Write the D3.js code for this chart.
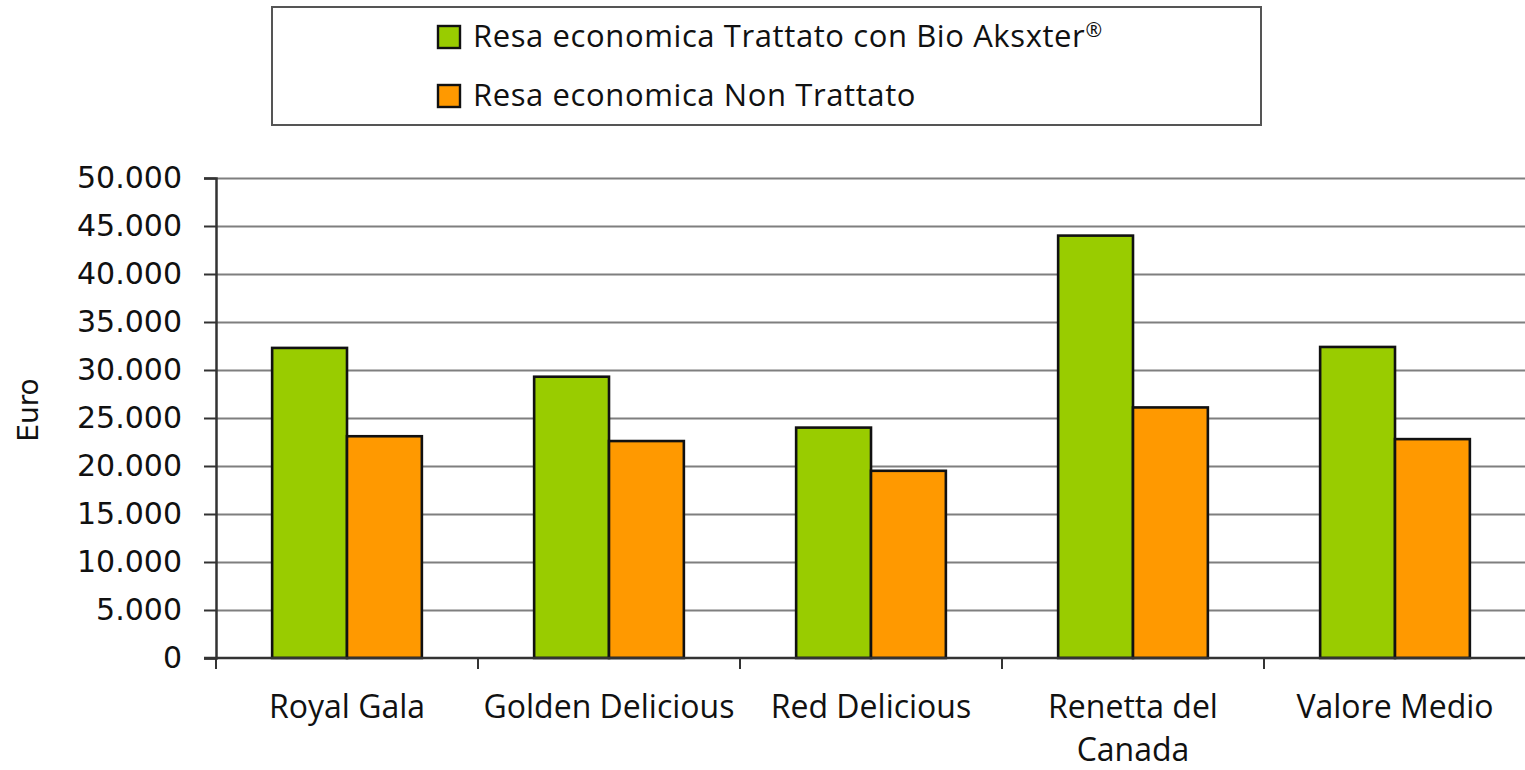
<!DOCTYPE html>
<html>
<head>
<meta charset="utf-8">
<script src="https://cdn.jsdelivr.net/npm/d3@7"></script>
<style>
  body { margin: 0; background: #fff; }
  svg { display: block; }
  .cat text { font-family: "Open Sans", sans-serif; font-size: 32px; fill: #111; }
  .yaxis text { font-family: "DejaVu Sans", sans-serif; font-size: 30px; fill: #111; }
</style>
</head>
<body>
<svg id="chart"></svg>
<script>
// data
var categories = ["Royal Gala", "Golden Delicious", "Red Delicious", "Renetta del Canada", "Valore Medio"];
var seriesNames = ["Resa economica Trattato con Bio Aksxter\u00AE", "Resa economica Non Trattato"];
var trattato = [32300, 29300, 24000, 44000, 32400];
var nonTrattato = [23100, 22600, 19500, 26100, 22800];
var yTicks = [0, 5000, 10000, 15000, 20000, 25000, 30000, 35000, 40000, 45000, 50000];
var colors = ["#99cc00", "#ff9900"];

var W = 1525, H = 770;
var margin = { top: 178, right: -1, bottom: 112, left: 216 };
var width = W - margin.left - margin.right,
    height = H - margin.top - margin.bottom;

var svg = d3.select("#chart").attr("width", W).attr("height", H);
var g = svg.append("g").attr("transform", "translate(" + margin.left + "," + margin.top + ")");

var fmt = d3.formatLocale({ decimal: ",", thousands: ".", grouping: [3], currency: ["", "\u20AC"] }).format(",");

var x0 = d3.scaleBand().domain(categories).range([0, width]).padding(0);
var x1 = d3.scaleBand().domain([0, 1]).range([0, x0.bandwidth()]).paddingInner(0).paddingOuter(0.75);
var y = d3.scaleLinear().domain([0, 50000]).range([height, 0]);

// gridlines
g.append("g")
    .call(d3.axisLeft(y).tickValues(yTicks.slice(1)).tickSize(-width).tickFormat(""))
    .call(function (s) {
        s.select(".domain").remove();
        s.selectAll("line").attr("stroke", "#7f7f7f").attr("stroke-width", 2);
    });

// bars
var rows = categories.map(function (c, i) { return { cat: c, values: [trattato[i], nonTrattato[i]] }; });
var grp = g.selectAll(".grp").data(rows).enter().append("g")
    .attr("class", "grp")
    .attr("transform", function (d) { return "translate(" + x0(d.cat) + ",0)"; });
grp.selectAll("rect").data(function (d) { return d.values; }).enter().append("rect")
    .attr("x", function (d, i) { return x1(i); })
    .attr("y", function (d) { return y(d); })
    .attr("width", x1.bandwidth())
    .attr("height", function (d) { return height - y(d); })
    .attr("fill", function (d, i) { return colors[i]; })
    .attr("stroke", "#111")
    .attr("stroke-width", 2.6);

// y axis
g.append("g").attr("class", "yaxis")
    .call(d3.axisLeft(y).tickValues(yTicks).tickSize(12).tickPadding(22).tickFormat(fmt))
    .call(function (s) {
        s.select(".domain").attr("stroke", "#333").attr("stroke-width", 2.5);
        s.selectAll("line").attr("stroke", "#333").attr("stroke-width", 2);
    });

// x axis baseline + boundary ticks
var edges = categories.map(function (c) { return x0(c); }).concat([x0.range()[1]]);
g.append("line").attr("x1", -12).attr("x2", width).attr("y1", height).attr("y2", height)
    .attr("stroke", "#333").attr("stroke-width", 2.5);
g.selectAll(".xtick").data(edges).enter().append("line")
    .attr("x1", function (d) { return d; }).attr("x2", function (d) { return d; })
    .attr("y1", height).attr("y2", height + 11)
    .attr("stroke", "#333").attr("stroke-width", 2);

// category labels, wrapped to the band width
var cat = g.append("g").attr("class", "cat");
cat.selectAll("text").data(categories).enter().append("text")
    .attr("x", function (d) { return x0(d) + x0.bandwidth() / 2; })
    .attr("y", height + 60)
    .attr("text-anchor", "middle")
    .each(function (d) {
        var t = d3.select(this), words = d.split(" "), line = [];
        var ts = t.append("tspan").attr("x", t.attr("x")).attr("dy", 0);
        words.forEach(function (w) {
            line.push(w);
            ts.text(line.join(" "));
            if (ts.node().getComputedTextLength() > x0.step() + 10 && line.length > 1) {
                line.pop();
                ts.text(line.join(" "));
                line = [w];
                ts = t.append("tspan").attr("x", t.attr("x")).attr("dy", 43).text(w);
            }
        });
    });

// y title
svg.append("text")
    .attr("transform", "translate(38," + 410 + ") rotate(-90)")
    .attr("text-anchor", "middle")
    .style("font-family", "DejaVu Sans, sans-serif")
    .style("font-size", "28px")
    .style("fill", "#111")
    .text("Euro");

// legend
var leg = svg.append("g");
leg.append("rect").attr("x", 272).attr("y", 7).attr("width", 989).attr("height", 118)
    .attr("fill", "#fff").attr("stroke", "#555").attr("stroke-width", 2);
var items = leg.selectAll(".item").data(seriesNames).enter().append("g")
    .attr("transform", function (d, i) { return "translate(438," + (26 + i * 59) + ")"; });
items.append("rect").attr("width", 22).attr("height", 22)
    .attr("fill", function (d, i) { return colors[i]; })
    .attr("stroke", "#111").attr("stroke-width", 2.4);
items.append("text").attr("x", 35).attr("y", 21)
    .style("font-family", "Open Sans, sans-serif")
    .style("font-size", "31px")
    .style("letter-spacing", "0.6px")
    .style("fill", "#111")
    .each(function (d) {
        var t = d3.select(this);
        var main = d.replace("\u00AE", "");
        t.append("tspan").text(main);
        if (main !== d) {
            t.append("tspan").attr("dy", -10).style("font-size", "20px").text("\u00AE");
        }
    });
</script>
</body>
</html>
